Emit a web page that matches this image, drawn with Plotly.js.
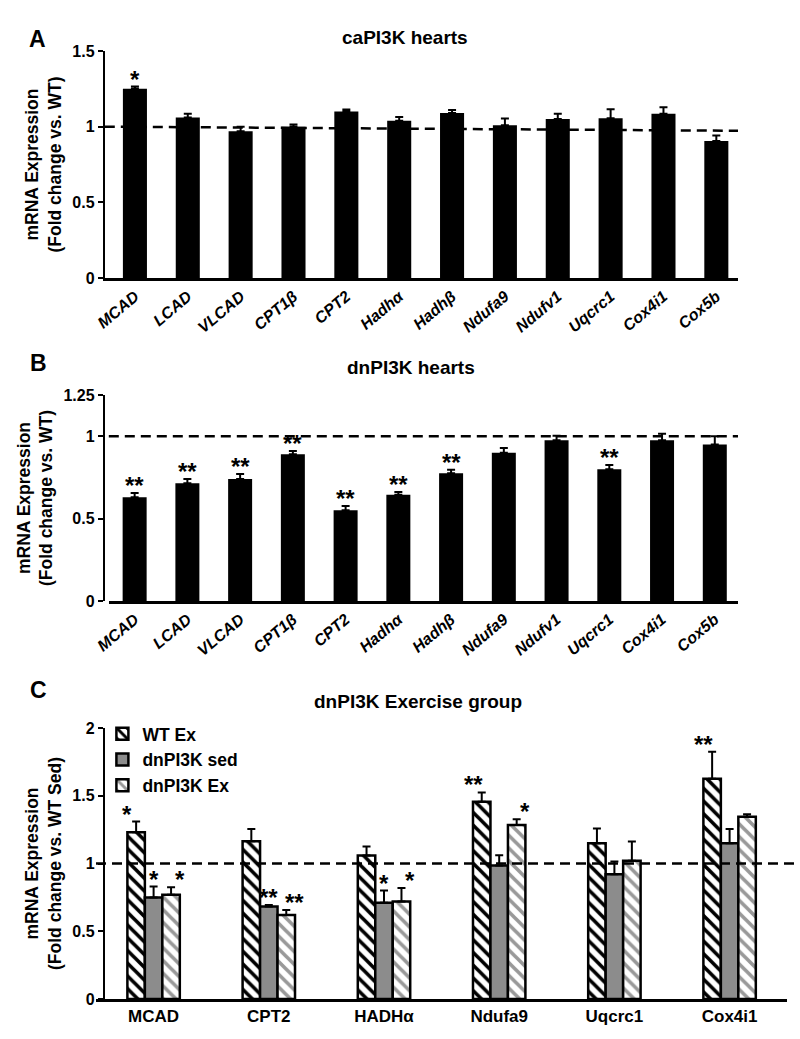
<!DOCTYPE html>
<html>
<head>
<meta charset="utf-8">
<script src="https://cdn.plot.ly/plotly-3.0.1.min.js"></script>
<style>
  body { margin: 0; background: #fff; }
  #graph { width: 800px; height: 1039px; }
</style>
</head>
<body>
<div id="graph"></div>
<script>
// panels A and B: single genes
var genesAB = ['MCAD', 'LCAD', 'VLCAD', 'CPT1β', 'CPT2', 'Hadhα', 'Hadhβ', 'Ndufa9', 'Ndufv1', 'Uqcrc1', 'Cox4i1', 'Cox5b'];

var caValues = [1.25, 1.06, 0.97, 1.00, 1.10, 1.04, 1.09, 1.01, 1.05, 1.055, 1.085, 0.905];
var caErrors = [0.015, 0.025, 0.03, 0.015, 0.013, 0.024, 0.02, 0.044, 0.035, 0.06, 0.044, 0.036];
var caStars = ['*', '', '', '', '', '', '', '', '', '', '', ''];

var dnValues = [0.63, 0.715, 0.74, 0.89, 0.55, 0.645, 0.775, 0.90, 0.975, 0.80, 0.975, 0.95];
var dnErrors = [0.025, 0.026, 0.03, 0.02, 0.026, 0.016, 0.022, 0.028, 0.028, 0.025, 0.04, 0.05];
var dnStars = ['**', '**', '**', '**', '**', '**', '**', '', '', '**', '', ''];

// panel C: exercise group
var genesC = ['MCAD', 'CPT2', 'HADHα', 'Ndufa9', 'Uqcrc1', 'Cox4i1'];
var groupNames = ['WT Ex', 'dnPI3K sed', 'dnPI3K Ex'];

var wtExValues = [1.23, 1.165, 1.06, 1.455, 1.15, 1.625];
var wtExErrors = [0.08, 0.09, 0.066, 0.07, 0.108, 0.2];
var wtExStars = ['*', '', '', '**', '', '**'];

var dnSedValues = [0.75, 0.683, 0.71, 0.985, 0.92, 1.15];
var dnSedErrors = [0.08, 0.01, 0.09, 0.076, 0.094, 0.104];
var dnSedStars = ['*', '**', '*', '', '', ''];

var dnExValues = [0.77, 0.62, 0.72, 1.285, 1.02, 1.345];
var dnExErrors = [0.055, 0.036, 0.1, 0.042, 0.143, 0.018];
var dnExStars = ['*', '**', '*', '*', '', ''];

var narrow = 'Liberation Sans Narrow, Arial Narrow, Liberation Sans, Arial, sans-serif';
var wide = 'Liberation Sans, Arial, sans-serif';

function zeros(arr) {
    return arr.map(function () { return 0; });
}

function upErrors(errs) {
    return {
        type: 'data', symmetric: false, array: errs, arrayminus: zeros(errs),
        color: '#000', thickness: 2, width: 4,
    };
}

var data = [];

data.push({
    type: 'bar', x: genesAB, y: caValues, xaxis: 'x', yaxis: 'y',
    marker: {color: '#000'}, error_y: upErrors(caErrors), showlegend: false,
    hoverinfo: 'x+y',
});

data.push({
    type: 'bar', x: genesAB, y: dnValues, xaxis: 'x2', yaxis: 'y2',
    marker: {color: '#000'}, error_y: upErrors(dnErrors), showlegend: false,
    hoverinfo: 'x+y',
});

var groupValues = [wtExValues, dnSedValues, dnExValues];
var groupErrors = [wtExErrors, dnSedErrors, dnExErrors];
var groupStars = [wtExStars, dnSedStars, dnExStars];
var groupMarkers = [
    {color: '#fff', line: {color: '#000', width: 2.5},
     pattern: {shape: '\\', fgcolor: '#000', bgcolor: '#fff', size: 9, solidity: 0.4}},
    {color: '#8c8c8c', line: {color: '#000', width: 2.5}},
    {color: '#fff', line: {color: '#000', width: 2.5},
     pattern: {shape: '\\', fgcolor: '#999', bgcolor: '#fff', size: 9, solidity: 0.4}},
];

for (var g = 0; g < 3; g++) {
    data.push({
        type: 'bar', name: groupNames[g], x: genesC, y: groupValues[g],
        xaxis: 'x3', yaxis: 'y3',
        marker: groupMarkers[g], error_y: upErrors(groupErrors[g]),
    });
}

var annotations = [];

function addStars(labels, values, errs, stars, xref, yref, offset) {
    for (var i = 0; i < labels.length; i++) {
        if (!stars[i]) continue;
        annotations.push({
            x: offset === undefined ? labels[i] : i + offset,
            y: values[i] + errs[i], xref: xref, yref: yref,
            text: stars[i], showarrow: false, yanchor: 'bottom', yshift: -8,
            font: {family: wide, size: 24, color: '#000', weight: 'bold'},
        });
    }
}

addStars(genesAB, caValues, caErrors, caStars, 'x', 'y');
addStars(genesAB, dnValues, dnErrors, dnStars, 'x2', 'y2');
var cBarGap = 0.32;
var cBarWidth = (1 - cBarGap) / 3;
for (var g = 0; g < 3; g++) {
    addStars(genesC, groupValues[g], groupErrors[g], groupStars[g], 'x3', 'y3', (g - 1) * cBarWidth);
}

// panel letters and titles
var panelLetters = [['A', 0.034, 0.977], ['B', 0.035, 0.651], ['C', 0.035, 0.321]];
panelLetters.forEach(function (p) {
    annotations.push({
        text: p[0], x: p[1], y: p[2], xref: 'paper', yref: 'paper', showarrow: false,
        font: {family: wide, size: 23, color: '#000', weight: 'bold'},
    });
});

var panelTitles = [['caPI3K hearts', 0.506, 0.976], ['dnPI3K hearts', 0.514, 0.646], ['dnPI3K Exercise group', 0.522, 0.313]];
panelTitles.forEach(function (p) {
    annotations.push({
        text: p[0], x: p[1], y: p[2], xref: 'paper', yref: 'paper', showarrow: false,
        font: {family: narrow, size: 19, color: '#000', weight: 'bold'},
    });
});

var dashLine = {color: '#000', width: 2.5, dash: '10px,6px'};
var shapes = [
    {type: 'line', xref: 'x domain', yref: 'y', x0: 0, x1: 1, y0: 1, y1: 0.973, line: dashLine},
    {type: 'line', xref: 'x2 domain', yref: 'y2', x0: 0, x1: 1, y0: 1, y1: 1, line: dashLine},
    {type: 'line', xref: 'x3 domain', yref: 'y3', x0: 0, x1: 1.012, y0: 1, y1: 1, line: dashLine},
];

function yAxis(domain, range, vals, text, title) {
    return {
        domain: domain, range: range, tickvals: vals, ticktext: text,
        showline: true, linecolor: '#000', linewidth: 2, ticks: 'outside',
        ticklen: 5, tickwidth: 2, tickcolor: '#000', showgrid: false, zeroline: false,
        tickfont: {family: narrow, size: 16, color: '#000', weight: 'bold'},
        title: {text: title, standoff: 6,
                font: {family: wide, size: 17.5, color: '#000', weight: 'bold'}},
        fixedrange: true,
    };
}

function xAxis(domain, range, anchor, font, angle) {
    return {
        domain: domain, range: range, anchor: anchor, type: 'category',
        showline: true, linecolor: '#000', linewidth: 3, ticks: '',
        showgrid: false, zeroline: false, tickangle: angle, tickfont: font,
        fixedrange: true,
    };
}

var italicTicks = {family: wide, size: 16, color: '#000', weight: 'bold', style: 'italic'};
var plainTicks = {family: narrow, size: 17, color: '#000', weight: 'bold'};

var layout = {
    width: 800, height: 1039,
    margin: {l: 0, r: 0, t: 0, b: 0},
    paper_bgcolor: '#fff', plot_bgcolor: '#fff',
    showlegend: true,
    barmode: 'group',
    bargap: 0.545,
    legend: {
        x: 0.128, y: 0.311, xanchor: 'left', yanchor: 'top',
        bgcolor: 'rgba(0,0,0,0)', tracegroupgap: 0,
        font: {family: narrow, size: 17.5, color: '#000', weight: 'bold'},
    },
    xaxis: xAxis([0.131, 0.9225], [-0.57, 11.41], 'y', italicTicks, -40),
    yaxis: yAxis([0.7324, 0.9509], [0, 1.5], [0, 0.5, 1, 1.5], ['0', '0.5', '1', '1.5'],
                 'mRNA Expression<br>(Fold change vs. WT)'),
    xaxis2: xAxis([0.136, 0.9225], [-0.49, 11.44], 'y2', italicTicks, -40),
    yaxis2: yAxis([0.4216, 0.6198], [0, 1.25], [0, 0.5, 1, 1.25], ['0', '0.5', '1', '1.25'],
                  'mRNA Expression<br>(Fold change vs. WT)'),
    xaxis3: xAxis([0.12, 0.984], [-0.5, 5.5], 'y3', plainTicks, 0),
    yaxis3: yAxis([0.0385, 0.2993], [0, 2], [0, 0.5, 1, 1.5, 2], ['0', '0.5', '1', '1.5', '2'],
                  'mRNA Expression<br>(Fold change vs. WT Sed)'),
    annotations: annotations,
    shapes: shapes,
};

Plotly.newPlot('graph', data, layout, {displayModeBar: false, staticPlot: true});
</script>
</body>
</html>
